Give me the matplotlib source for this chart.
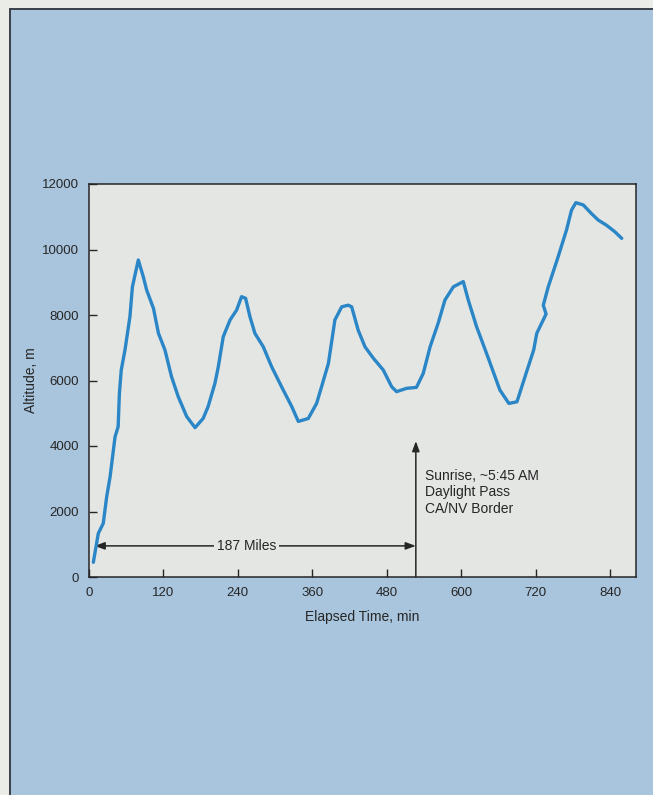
import matplotlib
matplotlib.use("Agg")
import matplotlib.pyplot as plt
from matplotlib.patches import Rectangle

# Balloon flight altitude record
elapsed_min = [7, 15, 23, 28.5, 34, 42, 47, 49, 52, 58, 66, 70, 79.5, 87.5, 93,
               104, 112, 122.5, 133, 144, 157.5, 171, 184, 192, 203, 208.5, 216.5,
               227.5, 238, 246, 252.5, 259.5, 267.5, 281, 294.5, 310.5, 327, 337.5,
               353.5, 367, 375, 386, 396.5, 407.5, 418, 423.5, 434, 445, 458.5,
               474.5, 488, 496, 512, 528, 539, 550, 563, 574, 587.5, 603.5, 611.5,
               625, 641, 662.5, 677, 690, 696, 706.5, 717, 722, 737, 732.5, 740.5,
               756.5, 770, 778, 785, 797, 810, 821, 834.5, 848, 859]
altitude_m = [450, 1330, 1640, 2450, 3060, 4280, 4590, 5600, 6320, 6930, 7950, 8860,
              9680, 9170, 8760, 8200, 7440, 6930, 6120, 5500, 4900, 4560, 4840, 5200,
              5910, 6420, 7340, 7850, 8150, 8560, 8510, 7950, 7440, 7030, 6420, 5810,
              5200, 4750, 4840, 5300, 5810, 6520, 7850, 8250, 8300, 8250, 7540, 7030,
              6680, 6320, 5810, 5660, 5760, 5790, 6220, 7030, 7750, 8460, 8860, 9020,
              8460, 7640, 6830, 5710, 5300, 5350, 5700, 6320, 6930, 7440, 8030, 8300,
              8860, 9780, 10600, 11200, 11430, 11360, 11100, 10900, 10740, 10540, 10340]

x_ticks = [0, 120, 240, 360, 480, 600, 720, 840]
y_ticks = [0, 2000, 4000, 6000, 8000, 10000, 12000]

sunrise_min = 527
sunrise_arrow_top = 4150
miles_level = 950
miles_start = 9
sunrise_lines = ["Sunrise, ~5:45 AM", "Daylight Pass", "CA/NV Border"]
miles_label = "187 Miles"

plt.rcParams['font.family'] = ['Liberation Sans', 'DejaVu Sans']

BLUE_BG = "#a9c5dd"
PANEL = "#e3e6e3"
INK = "#262626"
LINE = "#2a86c6"

fig = plt.figure(figsize=(6.53, 7.95), dpi=100, facecolor="#e9ece7")
fig.patches.append(Rectangle((10 / 653, -0.01), 1.05, 1 - 9 / 795 + 0.01,
                             transform=fig.transFigure, facecolor=BLUE_BG,
                             edgecolor="#3a4048", linewidth=1.4, zorder=-10))

ax = fig.add_axes([89 / 653, 1 - 577 / 795, (636 - 89) / 653, (577 - 184) / 795])
ax.set_facecolor(PANEL)

ax.plot(elapsed_min, altitude_m, color=LINE, linewidth=2.4, solid_joinstyle="round",
        solid_capstyle="round", zorder=3)

ax.set_xlim(0, 882)
ax.set_ylim(0, 12000)
ax.set_xticks(x_ticks)
ax.set_yticks(y_ticks)
ax.tick_params(direction="in", length=6, width=1, color=INK, labelcolor=INK,
               labelsize=9.5, pad=7)
for s in ax.spines.values():
    s.set_color(INK)
    s.set_linewidth(1.1)

ax.set_xlabel("Elapsed Time, min", fontsize=10, color=INK, labelpad=8)
ax.set_ylabel("Altitude, m", fontsize=10, color=INK, labelpad=3)

# Distance covered before sunrise
ax.annotate("", xy=(miles_start, miles_level), xytext=(sunrise_min, miles_level),
            arrowprops=dict(arrowstyle="<|-|>,head_length=0.6,head_width=0.22",
                            color=INK, lw=1.1, shrinkA=0, shrinkB=0), zorder=2)
ax.text((miles_start + sunrise_min) / 2 - 14, miles_level, miles_label,
        fontsize=10, color=INK, ha="center", va="center", zorder=4,
        bbox=dict(facecolor=PANEL, edgecolor="none", pad=2))

# Sunrise marker
ax.annotate("", xy=(sunrise_min, sunrise_arrow_top), xytext=(sunrise_min, 0),
            arrowprops=dict(arrowstyle="-|>,head_length=0.6,head_width=0.22",
                            color=INK, lw=1.1, shrinkA=0, shrinkB=0), zorder=2)
ax.text(sunrise_min + 14, 3300, "\n".join(sunrise_lines), fontsize=10, color=INK,
        ha="left", va="top", linespacing=1.22)

fig.savefig("out.png", dpi=100, facecolor=fig.get_facecolor())
